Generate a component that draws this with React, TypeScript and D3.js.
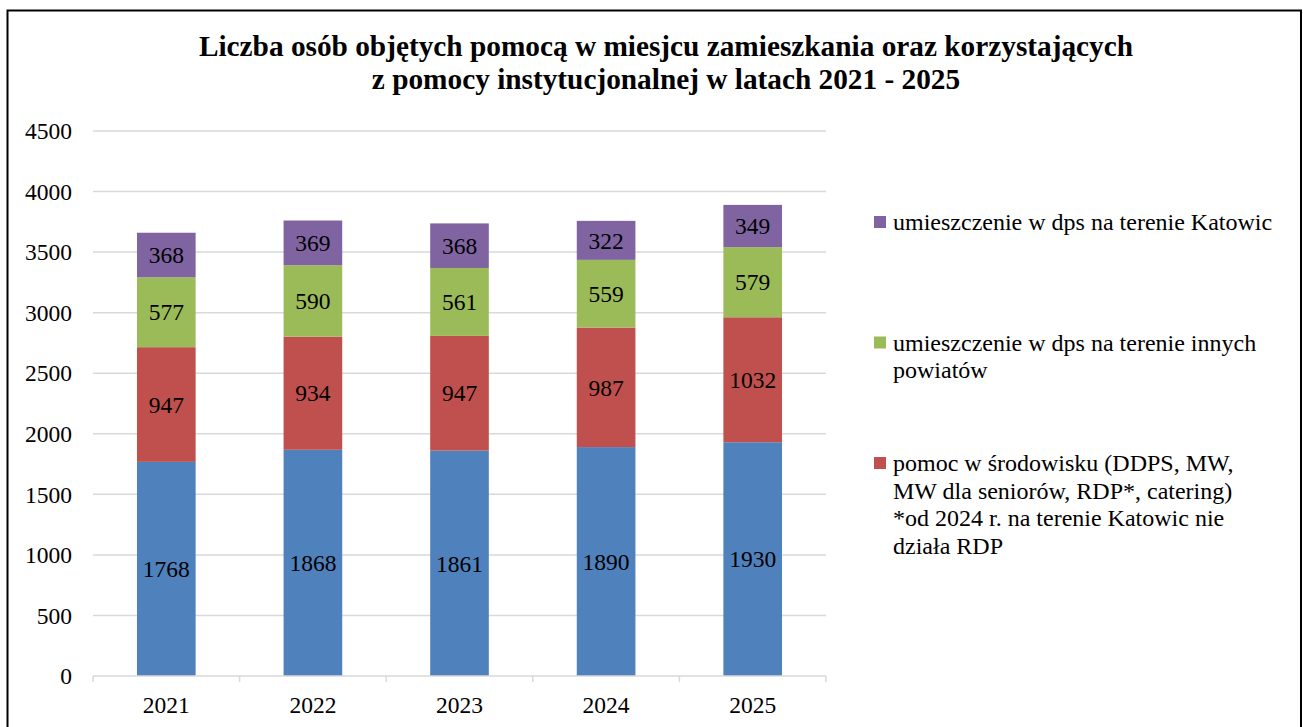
import React from "react";
import * as d3 from "d3";

const years = ["2021", "2022", "2023", "2024", "2025"];
const seriesKeys = ["home", "other", "outer", "katowice"];
const homeHelp = [1768, 1868, 1861, 1890, 1930];
const envHelp = [947, 934, 947, 987, 1032];
const otherCounties = [577, 590, 561, 559, 579];
const katowiceDps = [368, 369, 368, 322, 349];
const yTicks = [0, 500, 1000, 1500, 2000, 2500, 3000, 3500, 4000, 4500];
const colors = ["#4F81BD", "#C0504D", "#9BBB59", "#8064A2"];
const titleLines = [
  "Liczba osób objętych pomocą w miesjcu zamieszkania oraz korzystających",
  "z pomocy instytucjonalnej w latach 2021 - 2025",
];
const legendItems = [
  { color: "#8064A2", lines: ["umieszczenie w dps na terenie Katowic"] },
  { color: "#9BBB59", lines: ["umieszczenie w dps na terenie innych", "powiatów"] },
  {
    color: "#C0504D",
    lines: [
      "pomoc w środowisku (DDPS, MW,",
      "MW dla seniorów, RDP*, catering)",
      "*od 2024 r. na terenie Katowic nie",
      "działa RDP",
    ],
  },
];

const W = 1303;
const H = 727;
const FONT = "'Liberation Serif', 'Times New Roman', serif";

export default function App() {
  const rows = years.map((y, i) => ({
    year: y,
    home: homeHelp[i],
    other: envHelp[i],
    outer: otherCounties[i],
    katowice: katowiceDps[i],
  }));
  const stack = d3.stack<any>().keys(seriesKeys);
  const layers = stack(rows);

  const x = d3.scaleBand<string>().domain(years).range([93, 826]).padding(0);
  const y = d3.scaleLinear().domain([0, 4500]).range([676, 131]);
  const barW = x.bandwidth() * 0.4;
  const boundaries = [...years.map((yr) => x(yr) as number), 826];

  return (
    <svg
      width={W}
      height={H}
      style={{ position: "absolute", left: 0, top: 0, background: "#fff" }}
      fontFamily={FONT}
    >
      <rect x={0} y={0} width={W} height={H} fill="#fff" />
      <rect x={7.5} y={10.5} width={1293.5} height={730} fill="none" stroke="#000" strokeWidth={2} />
      {titleLines.map((t, i) => (
        <text
          key={i}
          x={666}
          y={56 + i * 33}
          textAnchor="middle"
          fontSize={29.3}
          fontWeight="bold"
          fill="#000"
        >
          {t}
        </text>
      ))}
      {yTicks.map((t) => (
        <g key={t}>
          {t > 0 && (
            <line x1={93} x2={826} y1={y(t)} y2={y(t)} stroke="#D9D9D9" strokeWidth={1.5} />
          )}
          <text x={72} y={y(t)} dy="0.35em" textAnchor="end" fontSize={23.5} fill="#000">
            {t}
          </text>
        </g>
      ))}
      {layers.map((layer, li) =>
        layer.map((d, i) => {
          const cx = (x(years[i]) as number) + x.bandwidth() / 2;
          const y0 = y(d[0]);
          const y1 = y(d[1]);
          const val = d[1] - d[0];
          return (
            <g key={`${li}-${i}`}>
              <rect x={cx - barW / 2} y={y1} width={barW} height={y0 - y1} fill={colors[li]} />
              <text
                x={cx}
                y={(y0 + y1) / 2}
                dy="0.35em"
                textAnchor="middle"
                fontSize={23.5}
                fill="#000"
              >
                {val}
              </text>
            </g>
          );
        })
      )}
      <line x1={93} x2={826} y1={676} y2={676} stroke="#D9D9D9" strokeWidth={1.5} />
      {boundaries.map((b, i) => (
        <line key={i} x1={b} x2={b} y1={676} y2={682} stroke="#D9D9D9" strokeWidth={1.5} />
      ))}
      {years.map((yr) => (
        <text
          key={yr}
          x={(x(yr) as number) + x.bandwidth() / 2}
          y={713}
          textAnchor="middle"
          fontSize={23.5}
          fill="#000"
        >
          {yr}
        </text>
      ))}
      {legendItems.map((it, i) => {
        const cy = 222 + i * 120.5;
        return (
          <g key={i}>
            <rect x={874} y={cy - 6} width={12} height={12} fill={it.color} />
            {it.lines.map((l, j) => (
              <text key={j} x={893} y={cy + j * 27.5} dy="0.35em" fontSize={24} fill="#000">
                {l}
              </text>
            ))}
          </g>
        );
      })}
    </svg>
  );
}
